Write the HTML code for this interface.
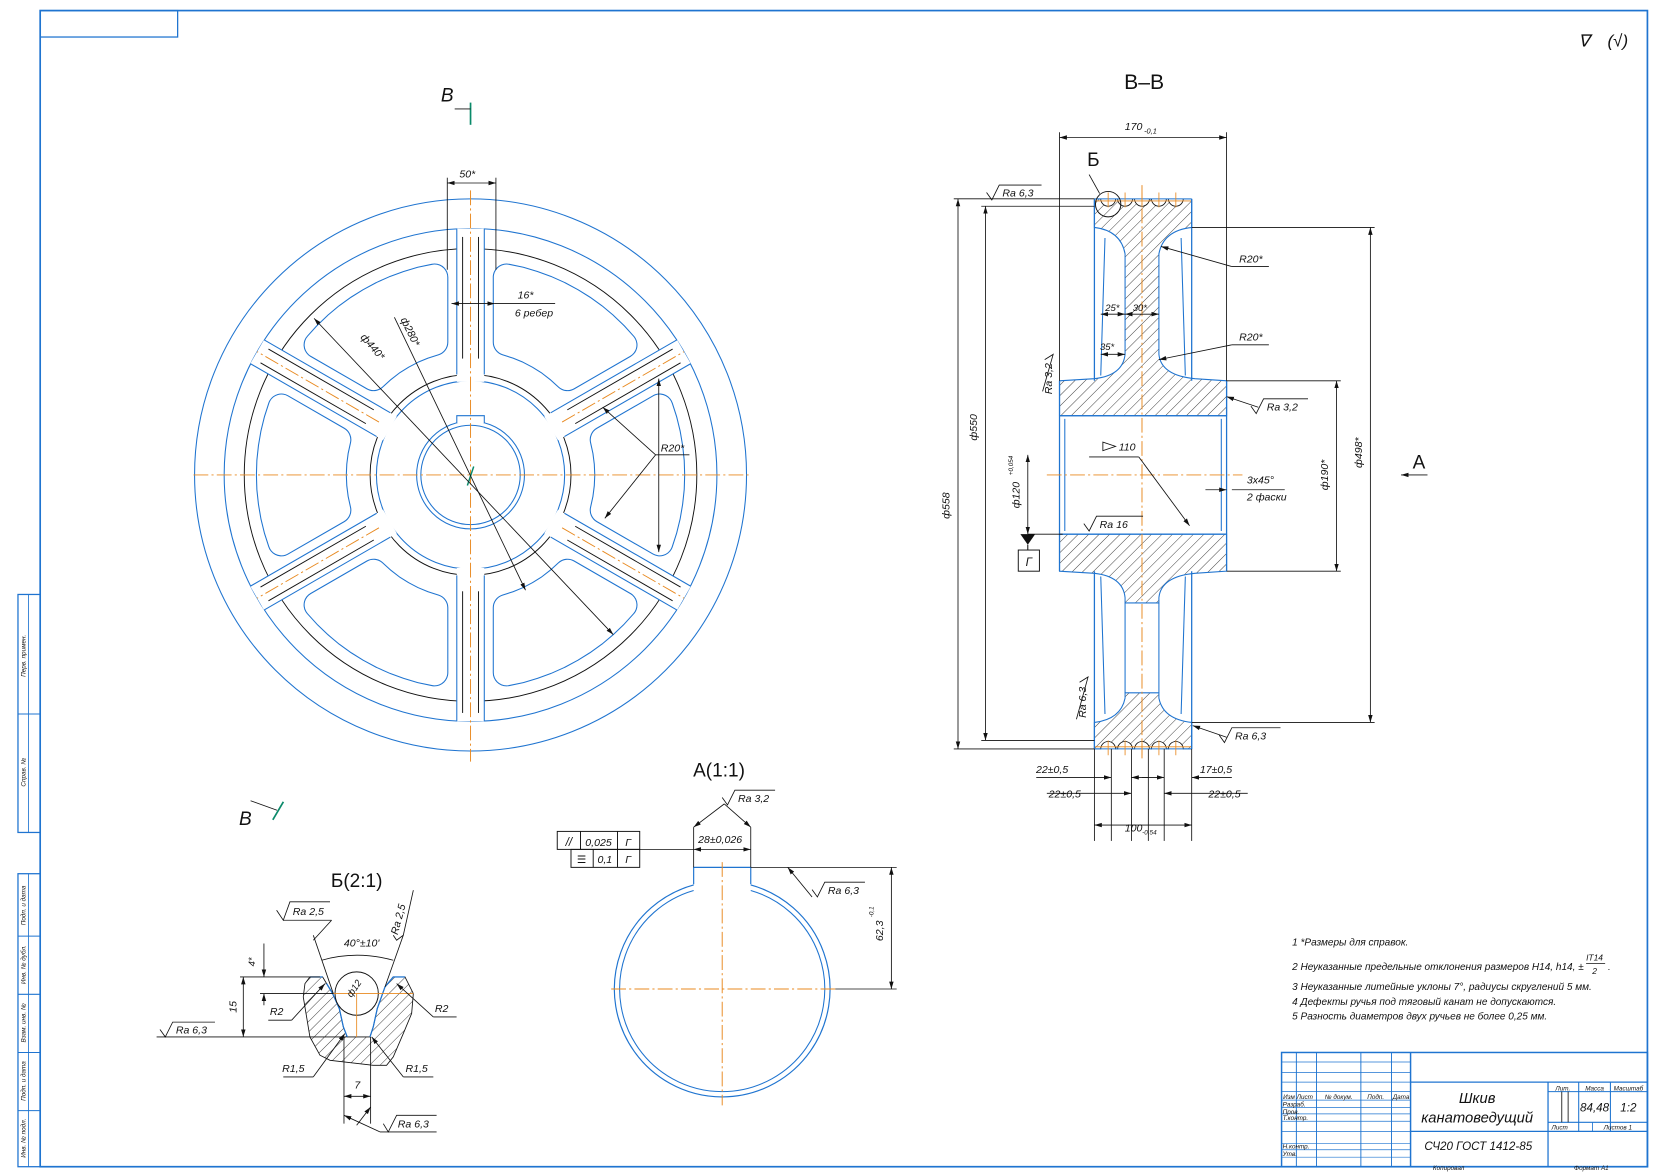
<!DOCTYPE html>
<html><head><meta charset="utf-8">
<style>
html,body{margin:0;padding:0;background:#fff;overflow:hidden}
svg{display:block}
text{font-family:"Liberation Sans",sans-serif;font-style:italic;fill:#111}
</style></head>
<body>
<svg id="s" width="1658" height="1172" viewBox="0 0 1568 1108" preserveAspectRatio="none" xmlns="http://www.w3.org/2000/svg">
<defs>
<pattern id="h" patternUnits="userSpaceOnUse" width="7" height="7" patternTransform="rotate(45)">
<line x1="0" y1="0" x2="0" y2="7" stroke="#222" stroke-width="0.8"/></pattern>
<marker id="a" viewBox="0 0 10 10" refX="10" refY="5" markerWidth="7" markerHeight="7" orient="auto-start-reverse" markerUnits="userSpaceOnUse"><path d="M0,2 L10,5 L0,8 Z" fill="#111"/></marker>
</defs>
<g id="g"></g>
</svg>
<script>
const g=document.getElementById('g');const NS='http://www.w3.org/2000/svg';
const B='#1f74d0',K='#111',O='#e8891f';
function el(t,a,txt){const e=document.createElementNS(NS,t);for(const k in a)e.setAttribute(k,a[k]);if(txt!==undefined)e.textContent=txt;g.appendChild(e);return e;}
function L(x1,y1,x2,y2,c,w,extra){const a={x1,y1,x2,y2,stroke:c||K,'stroke-width':w||0.8};if(extra)Object.assign(a,extra);return el('line',a);}
function C(cx,cy,r,c,w,f){return el('circle',{cx,cy,r,stroke:c||B,'stroke-width':w||1,fill:f||'none'});}
function P(d,c,w,f){return el('path',{d,stroke:c||B,'stroke-width':w||1,fill:f||'none'});}
function T(x,y,s,sz,rot,anchor,st){const a={x,y,'font-size':sz||10,'text-anchor':anchor||'middle'};if(rot)a.transform=`rotate(${rot} ${x} ${y})`;if(st)a.style=st;return el('text',a,s);}
function D(x1,y1,x2,y2){return L(x1,y1,x2,y2,K,0.8,{'marker-start':'url(#a)','marker-end':'url(#a)'});}
function AR(x1,y1,x2,y2){return L(x1,y1,x2,y2,K,0.8,{'marker-end':'url(#a)'});}
const CL={'stroke-dasharray':'14 3 2 3'};
function Ra(x,y,len,s){ // check mark + shelf
 P(`M${x},${y-7} L${x+5},${y} L${x+12},${y-14} L${x+12+len},${y-14}`,K,0.8);T(x+15,y-3,s,10,0,'start');}
// ----- frame
el('rect',{x:38,y:10,width:1520,height:1093,fill:'none',stroke:B,'stroke-width':1.6});
el('rect',{x:38,y:10,width:130,height:25,fill:'none',stroke:B,'stroke-width':1.2});
el('rect',{x:17,y:562,width:21,height:225,fill:'none',stroke:B,'stroke-width':1.2});
L(17,675,38,675,B,1);L(27,562,27,787,B,0.8);
el('rect',{x:17,y:826,width:21,height:277,fill:'none',stroke:B,'stroke-width':1.2});
L(27,826,27,1103,B,0.8);
[885,940,995,1050].forEach(y=>L(17,y,38,y,B,1));
[[620,'Перв. примен.'],[730,'Справ. №'],[856,'Подп. и дата'],[912,'Инв. № дубл.'],[967,'Взам. инв. №'],[1022,'Подп. и дата'],[1076,'Инв. № подл.']].forEach(([y,s])=>T(24,y,s,6,-90));
// top right symbol
T(1498,44,'∇',16);T(1530,44,'(√)',16);
// ===== FRONT VIEW
const cx=445,cy=449;
C(cx,cy,261,B,1);C(cx,cy,233,B,1);C(cx,cy,214,K,0.9);C(cx,cy,95,K,0.9);C(cx,cy,89,B,1);
// spokes
[90,30,150,210,270,330].forEach(a=>{const r=a*Math.PI/180,ux=Math.cos(r),uy=-Math.sin(r),px=-uy,py=ux;
 const q=(rr,o)=>[cx+ux*rr+px*o,cy+uy*rr+py*o];
 const pts=[q(88,-13),q(233,-13),q(233,13),q(88,13)];
 el('polygon',{points:pts.map(p=>p.join(',')).join(' '),fill:'#fff',stroke:'none'});
 [-13,13].forEach(o=>{const p1=q(95,o),p2=q(233,o);L(p1[0],p1[1],p2[0],p2[1],B,1);});
 [-7.5,7.5].forEach(o=>{const p1=q(110,o),p2=q(225,o);L(p1[0],p1[1],p2[0],p2[1],K,0.9);});
 if(a%180!==90){const p1=q(100,0),p2=q(233,0);L(p1[0],p1[1],p2[0],p2[1],O,0.9,CL);}
});
// windows
[0,60,120,180,240,300].forEach(a=>{const pts=[];const rr0=130,rr1=190;
 const s1=(a-30)*Math.PI/180,s2=(a+30)*Math.PI/180;
 // boundary lines offset 34 from spokes
 function edge(rr,sp,sign){const ang=sp+sign*Math.asin(34/rr);return [cx+rr*Math.cos(ang),cy-rr*Math.sin(ang)];}
 for(let i=0;i<=8;i++){const rr=rr0+(rr1-rr0)*i/8;}
 const a1=s1+Math.asin(34/rr1),a2=s2-Math.asin(34/rr1);
 for(let i=0;i<=10;i++){const t=a1+(a2-a1)*i/10;pts.push([cx+rr1*Math.cos(t),cy-rr1*Math.sin(t)]);}
 const b1=s2-Math.asin(34/rr0),b2=s1+Math.asin(34/rr0);
 for(let i=0;i<=6;i++){const t=b1+(b2-b1)*i/6;pts.push([cx+rr0*Math.cos(t),cy-rr0*Math.sin(t)]);}
 const ps=pts.map(p=>p.map(v=>v.toFixed(1)).join(',')).join(' ');
 el('polygon',{points:ps,fill:B,stroke:B,'stroke-width':26,'stroke-linejoin':'round'});
 el('polygon',{points:ps,fill:'#fff',stroke:'#fff','stroke-width':24,'stroke-linejoin':'round'});
});
// bore
C(cx,cy,51,B,1);C(cx,cy,47,B,1);
el('path',{d:`M${cx-13},${cy-49} L${cx-13},${cy-56} L${cx+13},${cy-56} L${cx+13},${cy-49}`,stroke:B,'stroke-width':1,fill:'#fff'});
L(183,cy,708,cy,O,0.9,CL);L(cx,180,cx,720,O,0.9,CL);
L(cx-3,cy+10,cx+3,cy-8,'#0a8a6a',1.4);
// front dims
L(423,168,423,255,K,0.8);L(469,168,469,255,K,0.8);D(423,173,469,173);T(442,168,'50*',10);
D(427,287,468,287);L(468,287,525,287,K,0.8);T(497,282,'16*',10);T(505,299,'6 ребер',10);
D(297,301,580,600);T(350,330,'ф440*',10,49);
AR(373,300,497,558);T(385,315,'ф280*',10,64);
D(623,358,623,522);AR(620,430,570,385);AR(620,430,572,490);L(620,430,652,430,K,0.8);T(636,427,'R20*',10);
T(423,96,'В',18);L(445,97,445,118,'#0a8a6a',1.6);L(430,103,445,103,K,0.8);
T(232,780,'В',18);L(258,775,268,758,'#0a8a6a',1.6);L(237,757,262,766,K,0.8);
// ===== SECTION B-B
T(1082,84,'В–В',20,0,'middle','font-style:normal');
P('M1035,188 L1127,188 L1127,215 Q1100,218 1096,240 L1096,335 Q1098,355 1130,358 L1160,360 L1160,393 L1002,393 L1002,360 L1035,358 Q1062,355 1064,335 L1064,240 Q1060,218 1035,215 Z',B,1,'url(#h)');
P('M1002,505 L1160,505 L1160,540 L1130,542 Q1098,545 1096,565 L1096,570 L1064,570 L1064,565 Q1062,545 1035,542 L1002,540 Z',B,1,'url(#h)');
P('M1035,708 L1127,708 L1127,683 Q1100,680 1096,660 L1096,655 L1064,655 L1064,660 Q1060,680 1035,683 Z',B,1,'url(#h)');
[1048,1064,1080,1096,1112].forEach(x=>{C(x,188,7,K,0.8,'#fff');C(x,708,7,K,0.8,'#fff');});
el('rect',{x:1028,y:176,width:106,height:12,fill:'#fff'});el('rect',{x:1028,y:708.5,width:106,height:12,fill:'#fff'});
L(1035,188,1127,188,B,1);L(1035,708,1127,708,B,1);
[1048,1064,1080,1096,1112].forEach(x=>{L(x,182,x,196,O,0.8);L(x,700,x,714,O,0.8);});
L(1035,190,1127,190,O,0.8);L(1035,706,1127,706,O,0.8);
L(1035,188,1035,360,B,1.2);L(1127,188,1127,360,B,1.2);L(1035,540,1035,708,B,1.2);L(1127,540,1127,708,B,1.2);
L(1045,225,1041,355,B,1);L(1117,225,1121,355,B,1);L(1041,545,1045,675,B,1);L(1121,545,1117,675,B,1);
L(1064,570,1064,655,B,1);L(1096,570,1096,655,B,1);
L(1002,393,1160,393,B,1.2);L(1002,505,1160,505,B,1.2);L(1007,396,1007,502,B,1);L(1155,396,1155,502,B,1);
L(1002,360,1002,540,B,1.2);L(1160,360,1160,540,B,1.2);
L(1080,175,1080,720,O,0.9,CL);L(990,449,1175,449,O,0.9,CL);
// B-B dims
L(1002,125,1002,360,K,0.8);L(1160,125,1160,360,K,0.8);D(1002,130,1160,130);T(1072,123,'170',10);T(1088,126,'-0,1',7);
T(1034,157,'Б',18,0,'middle','font-style:normal');L(1030,165,1040,183,K,0.8);C(1048,193,12,K,0.9);
L(902,188,1035,188,K,0.8);L(902,708,1035,708,K,0.8);D(906,188,906,708);T(898,478,'ф558',10,-90);
L(928,195,1035,195,K,0.8);L(928,700,1035,700,K,0.8);D(932,195,932,700);T(924,404,'ф550',10,-90);
Ra(933,189,40,'Ra 6,3');
L(1127,215,1300,215,K,0.8);L(1127,683,1300,683,K,0.8);D(1296,215,1296,683);T(1288,428,'ф498*',10,-90);
L(1160,360,1268,360,K,0.8);L(1160,540,1268,540,K,0.8);D(1264,360,1264,540);T(1256,449,'ф190*',10,-90);
AR(1350,449,1325,449);T(1342,443,'А',18,0,'middle','font-style:normal');
AR(1165,252,1098,233);L(1165,252,1200,252,K,0.8);T(1183,248,'R20*',10);
AR(1165,326,1096,340);L(1165,326,1200,326,K,0.8);T(1183,322,'R20*',10);
D(1041,297,1064,297);D(1064,297,1096,297);T(1052,294,'25*',9);T(1078,294,'30*',9);
D(1041,335,1064,335);T(1047,331,'35*',9);
T(995,358,'Ra 3,2',10,-90);P('M988,340 L996,335 L986,370',K,0.8);
AR(1190,385,1160,375);Ra(1183,391,42,'Ra 3,2');
P('M1043,418 L1043,426 L1055,422 Z',K,0.8);T(1058,426,'110',10,0,'start');L(1030,432,1077,432,K,0.8);AR(1077,432,1125,497);
AR(1140,463,1160,463);L(1165,463,1215,463,K,0.8);T(1192,457,'3х45°',10);T(1198,473,'2 фаски',10);
Ra(1025,502,44,'Ra 16');
D(972,430,972,505);el('path',{d:'M965,505 L979,505 L972,515 Z',fill:K});L(972,515,972,520,K,1);
el('rect',{x:963,y:520,width:20,height:20,fill:'none',stroke:K,'stroke-width':0.9});T(973,535,'Г',11);
T(964,468,'ф120',10,-90);T(958,440,'+0,054',6,-90);L(972,505,1005,505,K,0.8);
T(1027,664,'Ra 6,3',10,-90);P('M1021,645 L1029,640 L1018,680',K,0.8);
AR(1160,697,1128,686);Ra(1153,702,46,'Ra 6,3');
// bottom dims
[1035,1051,1070,1086,1101,1127].forEach(x=>L(x,708,x,795,K,0.8));
L(980,735,1051,735,K,0.8,{'marker-end':'url(#a)'});L(1086,735,1070,735,K,0.8,{'marker-end':'url(#a)'});
T(995,731,'22±0,5',10);
L(990,750,1070,750,K,0.8,{'marker-end':'url(#a)'});T(1007,754,'22±0,5',10);
L(1165,735,1127,735,K,0.8,{'marker-end':'url(#a)'});L(1080,735,1101,735,K,0.8,{'marker-end':'url(#a)'});T(1150,731,'17±0,5',10);
L(1180,750,1101,750,K,0.8,{'marker-end':'url(#a)'});T(1158,754,'22±0,5',10);
D(1035,780,1127,780);T(1072,786,'100',10);T(1087,789,'-0,54',6);
// ===== DETAIL A
T(680,734,'А(1:1)',18,0,'middle','font-style:normal');
const ax=683,ay=935;
function keyCircle(r,s){const dx=s,yy=ay-Math.sqrt(r*r-dx*dx);return `M${ax-dx},${yy} A${r},${r} 0 1 0 ${ax+dx},${yy}`;}
P(keyCircle(102,27),B,1.1);P(keyCircle(97,27),B,1);
P(`M${ax-27},${ay-99} L${ax-27},820 L${ax+27},820 L${ax+27},${ay-99}`,B,1.1);
L(ax,815,ax,1045,O,0.9,CL);L(578,ay,790,ay,O,0.9,CL);
L(656,782,656,820,K,0.8);L(710,782,710,820,K,0.8);D(656,803,710,803);L(560,803,656,803,K,0.8);T(681,797,'28±0,026',10);
AR(685,760,656,782);AR(685,760,710,782);Ra(683,761,38,'Ra 3,2');
el('rect',{x:527,y:786,width:78,height:17,fill:'none',stroke:K,'stroke-width':0.9});L(549,786,549,803,K,.9);L(584,786,584,803,K,.9);
T(538,800,'//',11);T(566,800,'0,025',10);T(594,800,'Г',10);
el('rect',{x:540,y:803,width:65,height:17,fill:'none',stroke:K,'stroke-width':0.9});L(561,803,561,820,K,.9);L(584,803,584,820,K,.9);
T(550,816,'☰',10,0,'middle','font-style:normal');T(572,816,'0,1',10);T(594,816,'Г',10);
L(710,820,848,820,K,0.8);L(790,935,848,935,K,0.8);D(843,820,843,935);T(835,880,'62,3',10,-90);T(826,862,'-0,1',6,-90);
AR(768,848,745,820);Ra(768,848,38,'Ra 6,3');
// ===== DETAIL Б (zoom coords)
const Z=(X,Y)=>[((140+X/3)/1.0575).toFixed(1),((840+Y/3)/1.0575).toFixed(1)];
const zp=a=>a.map(p=>Z(p[0],p[1]).join(',')).join(' L');
T(...Z(650,140),'Б(2:1)',18,0,'middle','font-style:normal');
P('M'+zp([[510,410],[548,410],[560,430],[578,460],[598,505],[610,560],[622,590],[690,590],[700,560],[712,505],[735,440],[760,410],[795,410],[820,460],[815,520],[790,580],[760,650],[740,675],[700,675],[570,660],[540,645],[510,590],[490,470],[495,430]])+'Z',K,0.8,'url(#h)');
P('M'+zp([[510,410],[548,410]]),B,1.2);P('M'+zp([[760,410],[795,410]]),B,1.2);
P('M'+zp([[560,430],[578,460],[598,505],[610,560],[622,590]]),B,1.2);P('M'+zp([[690,590],[700,560],[712,505],[735,440],[760,410]]),B,1.2);
{const c=Z(650,460);C(c[0],c[1],20.5,K,0.9,'#fff');}
const ZL=(a,b,c,d,col,w,ex)=>{const p=Z(a,b),q=Z(c,d);return L(p[0],p[1],q[0],q[1],col||K,w||0.8,ex);};
ZL(580,460,820,460,O,0.8);ZL(650,460,650,590,O,0.8);
ZL(50,590,620,590);ZL(300,410,540,410);
{const p=Z(310,410),q=Z(310,590);D(p[0],p[1],q[0],q[1]);}T(...Z(290,500),'15',10,-90);
ZL(360,460,580,460);{const p=Z(372,310),q=Z(372,410);AR(p[0],p[1],q[0],q[1]);const r=Z(372,495),s=Z(372,460);AR(r[0],r[1],s[0],s[1]);}
T(...Z(345,365),'4*',9,-90);
{const p=Z(60,590);Ra(+p[0],+p[1],40,'Ra 6,3');}
ZL(385,540,455,540);{const p=Z(455,540),q=Z(555,430);AR(p[0],p[1],q[0],q[1]);}T(...Z(410,525),'R2',10);
ZL(880,530,950,530);{const p=Z(880,530),q=Z(770,430);AR(p[0],p[1],q[0],q[1]);}T(...Z(905,515),'R2',10);
ZL(430,710,520,710);{const p=Z(520,710),q=Z(615,580);AR(p[0],p[1],q[0],q[1]);}T(...Z(460,695),'R1,5',10);
ZL(790,710,880,710);{const p=Z(790,710),q=Z(695,590);AR(p[0],p[1],q[0],q[1]);}T(...Z(830,695),'R1,5',10);
ZL(612,590,612,850);ZL(692,590,692,850);{const p=Z(612,768),q=Z(692,768);D(p[0],p[1],q[0],q[1]);}T(...Z(652,745),'7',10);
ZL(720,875,890,875);{const p=Z(720,875),q=Z(612,825);AR(p[0],p[1],q[0],q[1]);const r=Z(650,855),s=Z(692,800);AR(r[0],r[1],s[0],s[1]);}
P('M'+zp([[730,850],[745,875],[770,825],[890,825]]),K,0.8);T(...Z(820,862),'Ra 6,3',10);
ZL(520,285,580,460);ZL(790,285,735,440);
P('M'+Z(545,360).join(',')+' Q'+Z(650,330).join(',')+' '+Z(760,360).join(','),K,0.8);T(...Z(665,318),'40°±10\'',10);
P('M'+zp([[410,210],[430,240],[450,185],[570,185]]),K,0.8);ZL(430,240,575,240);ZL(575,240,520,300);T(...Z(505,225),'Ra 2,5',10);
P('M'+zp([[760,285],[770,300],[790,285],[820,150]]),K,0.8);T(...Z(785,240),'Ra 2,5',10,-75);
T(...Z(650,450),'ф12',9,-55);
// ===== NOTES
[[1222,894,'1  *Размеры для справок.'],[1222,917,'2  Неуказанные предельные отклонения размеров H14, h14, ±'],[1222,936,'3  Неуказанные литейные уклоны 7°, радиусы скруглений 5 мм.'],[1222,950,'4  Дефекты ручья под тяговый канат не допускаются.'],[1222,964,'5  Разность диаметров двух ручьев не более 0,25 мм.']].forEach(([x,y,s])=>T(x,y,s,9.5,0,'start'));
T(1508,908,'IT14',8);L(1500,911,1518,911,K,0.7);T(1508,921,'2',8);T(1522,917,'.',9);
// ===== TITLE BLOCK
el('rect',{x:1212,y:995,width:346,height:108,fill:'none',stroke:B,'stroke-width':1.4});
[1226,1245,1287,1316].forEach(x=>L(x,995,x,1103,B,0.9));L(1334,995,1334,1103,B,1.4);
[1004,1014,1023,1032,1040,1047,1053,1060,1069.6,1081,1087,1094].forEach(y=>L(1212,y,1334,y,B,0.7));
L(1334,1023,1558,1023,B,1.2);L(1334,1069.6,1558,1069.6,B,1.2);L(1464,1023,1464,1103,B,1.2);
L(1493,1023,1493,1069.6,B,1);L(1523,1023,1523,1069.6,B,1);L(1464,1032,1558,1032,B,1);L(1464,1061,1558,1061,B,1);
L(1477,1032,1477,1061,K,0.8);L(1483,1032,1483,1061,K,0.8);L(1506,1061,1506,1069.6,B,0.8);
T(1219,1039,'Изм',6);T(1234,1039,'Лист',6);T(1266,1039,'№ докум.',6);T(1301,1039,'Подп.',6);T(1325,1039,'Дата',6);
[[1046,'Разраб.'],[1053,'Пров.'],[1059,'Т.контр.'],[1086,'Н.контр.'],[1093,'Утв.']].forEach(([y,s])=>T(1213,y,s,6,0,'start'));
T(1397,1043,'Шкив',14);T(1397,1061,'канатоведущий',14);T(1398,1087,'СЧ20  ГОСТ 1412-85',11);
T(1478,1031,'Лит.',6);T(1508,1031,'Масса',6);T(1540,1031,'Масштаб',6);T(1508,1051,'84,48',11);T(1540,1051,'1:2',11);
T(1475,1068,'Лист',6);T(1530,1068,'Листов   1',6);T(1370,1106,'Копировал',6);T(1505,1106,'Формат   А1',6);
</script>
</body></html>
